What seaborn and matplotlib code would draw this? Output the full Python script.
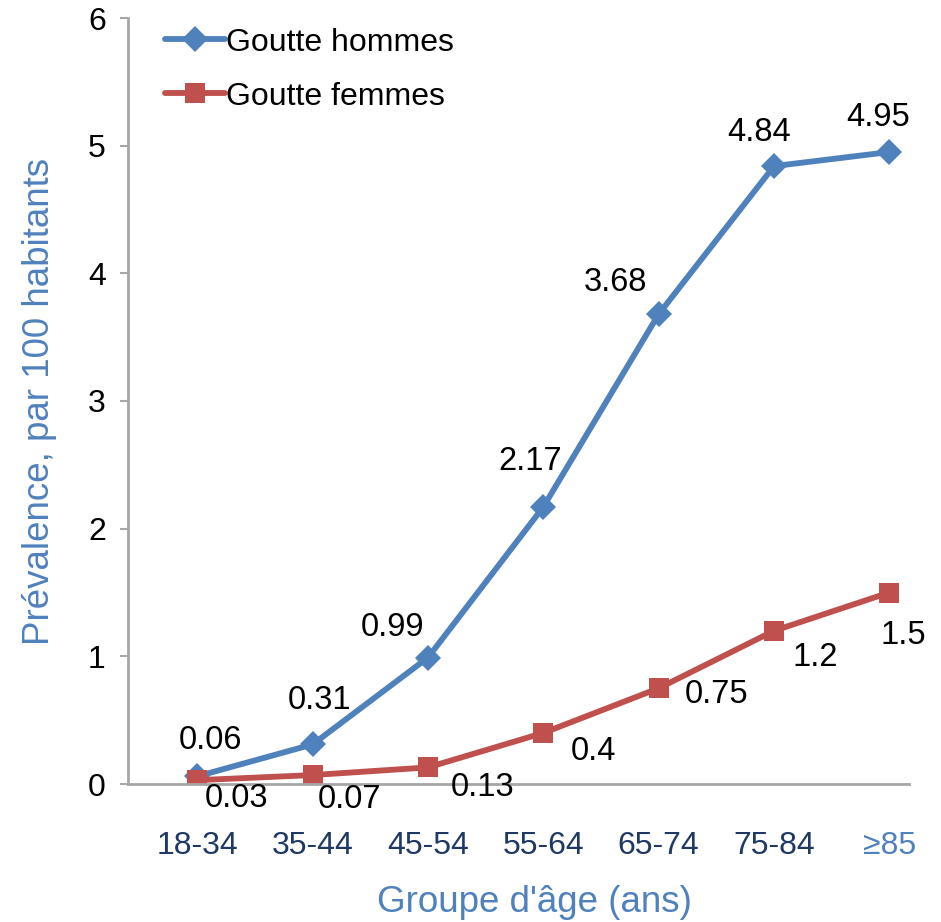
import matplotlib
matplotlib.use("Agg")
import matplotlib.pyplot as plt
import seaborn as sns
import pandas as pd

age_groups = ["18-34", "35-44", "45-54", "55-64", "65-74", "75-84", "\u226585"]
hommes = [0.06, 0.31, 0.99, 2.17, 3.68, 4.84, 4.95]
femmes = [0.03, 0.07, 0.13, 0.4, 0.75, 1.2, 1.5]
series_names = ["Goutte hommes", "Goutte femmes"]

BLUE = "#4F81BD"
RED = "#C0504D"
NAVY = "#1F3864"
GREY = "#A6A6A6"

sns.set_style("white")
plt.rcParams["font.family"] = ["Liberation Sans", "DejaVu Sans"]
plt.rcParams["text.color"] = "black"
plt.rcParams["ytick.color"] = "black"

pos = list(range(len(age_groups)))
df = pd.DataFrame({
    "x": pos + pos,
    "val": hommes + femmes,
    "serie": [series_names[0]] * len(hommes) + [series_names[1]] * len(femmes),
})

fig = plt.figure(figsize=(9.41, 9.22), dpi=100)
ax = fig.add_axes([128 / 941, 138 / 922, (909 - 128) / 941, (784 - 18) / 922])

sns.lineplot(data=df, x="x", y="val", hue="serie", style="serie",
             palette={series_names[0]: BLUE, series_names[1]: RED},
             markers={series_names[0]: "D", series_names[1]: "s"},
             dashes=False, linewidth=4.2, markersize=14, markeredgewidth=0,
             ax=ax)
for ln in ax.lines:
    if ln.get_marker() == "s":
        ln.set_markersize(14.5)
    elif ln.get_marker() == "D":
        ln.set_markersize(13)

# label offsets in pixels (layout only)
off_h = [(13, 36), (7, 44), (-35, 30), (-13, 45), (-43, 32), (-15, 34), (-11, 35)]
off_f = [(39, -18), (37, -24), (55, -20), (50, -19), (58, -6), (41, -27), (14, -43)]
for i, v in enumerate(hommes):
    ax.annotate(f"{v:g}", (pos[i], v), xytext=off_h[i], textcoords="offset pixels",
                ha="center", va="center", fontsize=23.5, color="black")
for i, v in enumerate(femmes):
    ax.annotate(f"{v:g}", (pos[i], v), xytext=off_f[i], textcoords="offset pixels",
                ha="center", va="center", fontsize=23.5, color="black")

ax.set_xlim(-0.6, 6.17)
ax.set_ylim(0, 6)
ax.set_yticks(range(0, 7))
ax.set_xticks(pos)
ax.set_xticklabels(age_groups)
for i, t in enumerate(ax.get_xticklabels()):
    t.set_color(BLUE if i == len(age_groups) - 1 else NAVY)
ax.tick_params(axis="x", length=0, labelsize=23, pad=34)
ax.tick_params(axis="y", length=6, width=1.5, color=GREY, labelcolor="black",
               labelsize=23, pad=10, direction="out", left=True)

for s in ["top", "right"]:
    ax.spines[s].set_visible(False)
for s in ["left", "bottom"]:
    ax.spines[s].set_color(GREY)
    ax.spines[s].set_linewidth(2)

ax.set_xlabel("Groupe d'\u00e2ge (ans)", fontsize=26.5, color=BLUE)
ax.xaxis.set_label_coords(0.52, -0.132)
ax.set_ylabel("Pr\u00e9valence, par 100 habitants", fontsize=26.5, color=BLUE, labelpad=22)

leg = ax.legend(loc="upper left", bbox_to_anchor=(0.01, 1.025), frameon=False,
                fontsize=23, handlelength=1.9, handletextpad=0.02, labelspacing=0.75)
for t in leg.get_texts():
    t.set_color("black")

fig.savefig("out.png", dpi=100)
